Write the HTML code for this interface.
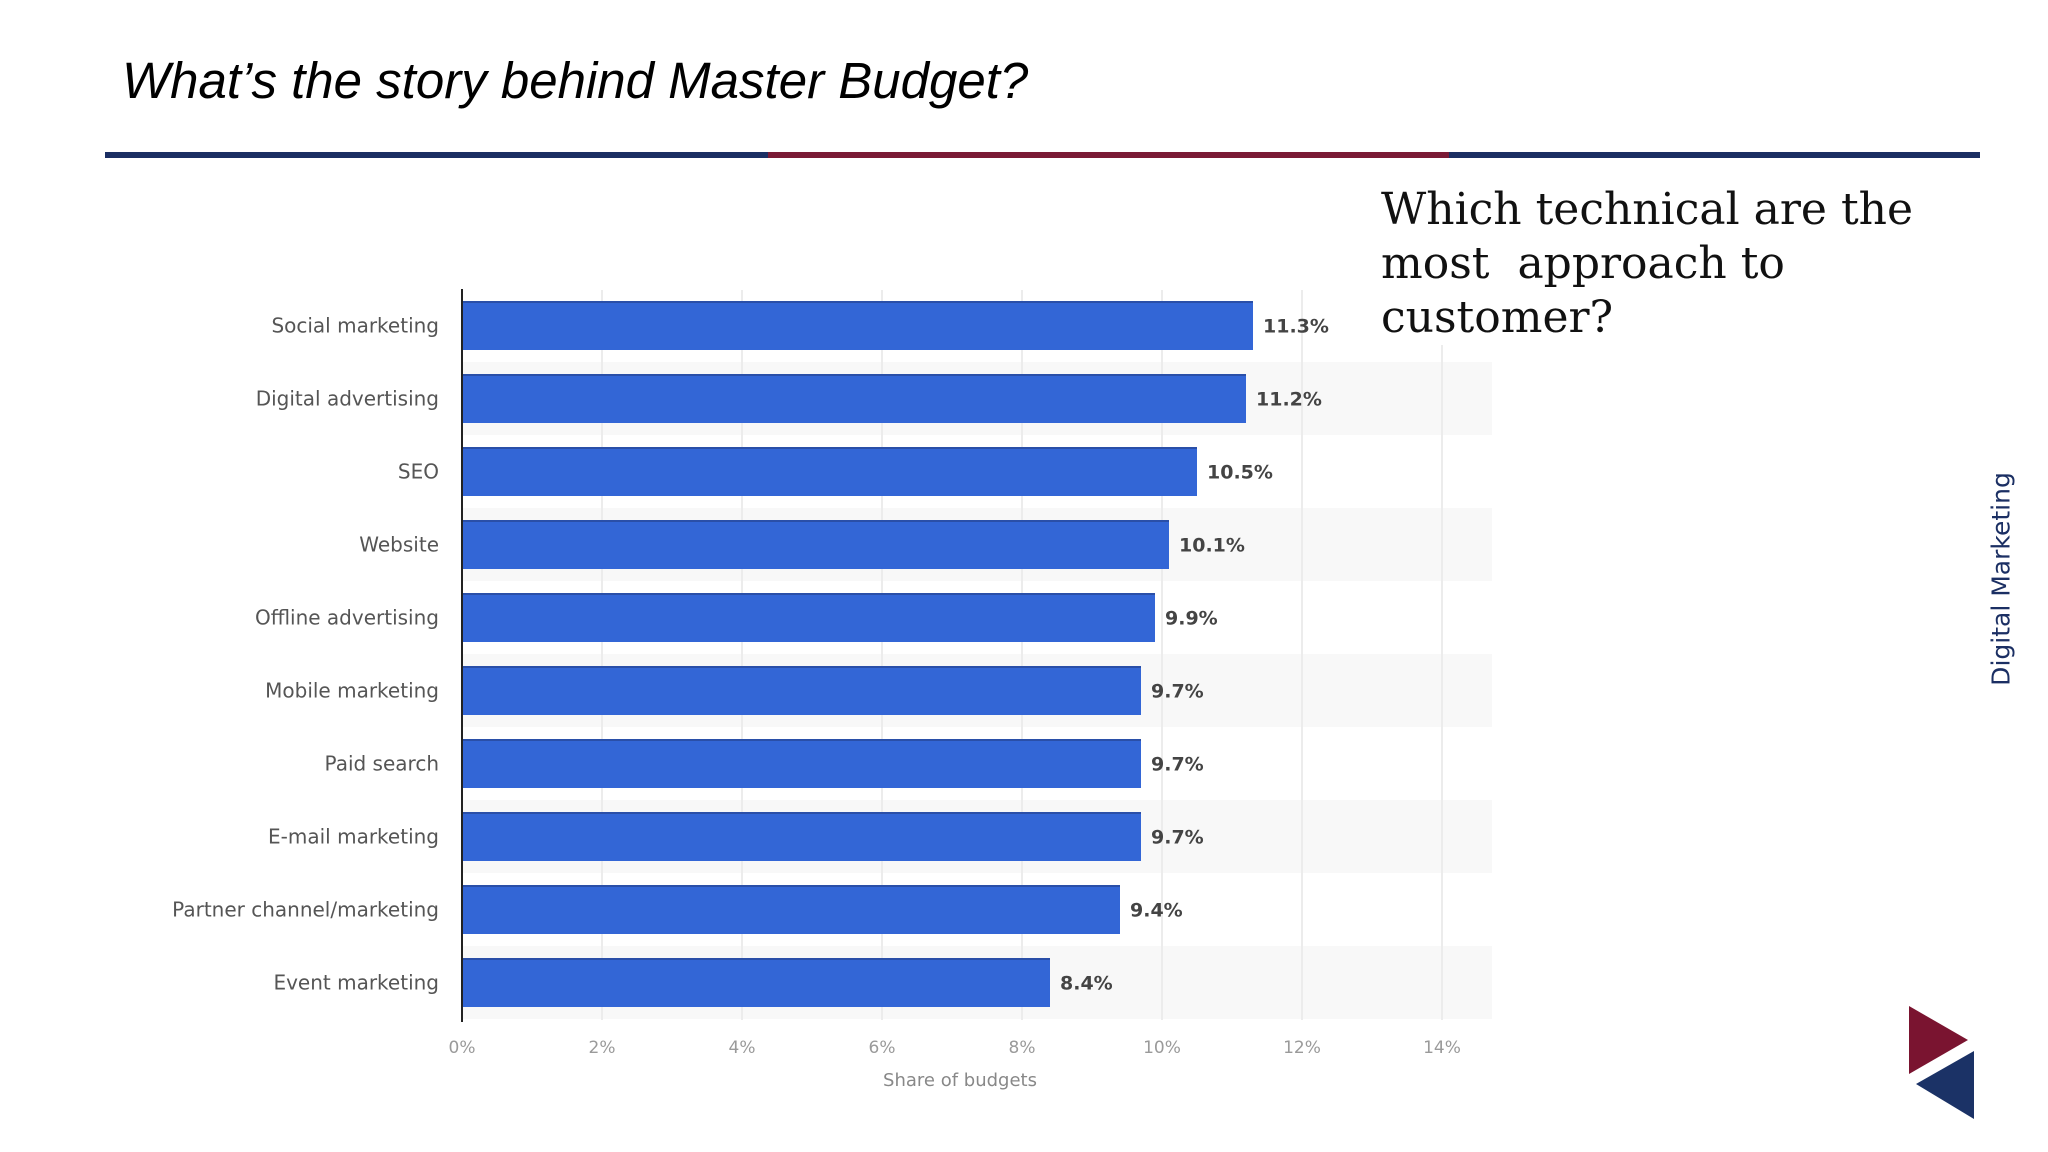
<!DOCTYPE html>
<html><head><meta charset="utf-8"><style>
body{margin:0;width:2048px;height:1152px;background:#fff;overflow:hidden;position:relative;font-family:"DejaVu Sans","Liberation Sans",sans-serif}
.abs{position:absolute}
</style></head><body>
<div class="abs" style="left:122px;top:51px;font:italic 51px 'Liberation Sans',sans-serif;color:#000;white-space:nowrap">What’s the story behind Master Budget?</div>
<div class="abs" style="left:105px;top:152px;width:663px;height:6px;background:#1b2f63"></div>
<div class="abs" style="left:768px;top:152px;width:681px;height:6px;background:#7a1a35"></div>
<div class="abs" style="left:1449px;top:152px;width:531px;height:6px;background:#1b2f63"></div>
<svg id="chart" class="abs" style="left:0;top:0" width="2048" height="1152"></svg>
<div class="abs" style="left:1381px;top:183px;font:44px 'DejaVu Serif','Liberation Serif',serif;line-height:54px;color:#111;white-space:pre;background:#fff">Which technical are the
most  approach to
customer?</div>
<div class="abs" style="left:2001px;top:579px;transform:translate(-50%,-50%) rotate(-90deg);font:25px 'DejaVu Sans',sans-serif;color:#1b2f63;white-space:nowrap">Digital Marketing</div>
<svg class="abs" style="left:0;top:0" width="2048" height="1152">
<polygon points="1909,1006 1909,1074 1968,1040" fill="#7a1430"/>
<polygon points="1974,1051 1974,1119 1916,1084" fill="#1b3266"/>
</svg>
<script>
const categories=["Social marketing","Digital advertising","SEO","Website","Offline advertising","Mobile marketing","Paid search","E-mail marketing","Partner channel/marketing","Event marketing"];
const values=[11.3,11.2,10.5,10.1,9.9,9.7,9.7,9.7,9.4,8.4];
const valueLabels=["11.3%","11.2%","10.5%","10.1%","9.9%","9.7%","9.7%","9.7%","9.4%","8.4%"];
const ticks=[0,2,4,6,8,10,12,14];
const tickLabels=["0%","2%","4%","6%","8%","10%","12%","14%"];
const NS="http://www.w3.org/2000/svg";
const svg=document.getElementById('chart');
const x0=462,pxPer=70,top0=301,pitch=73,bh=49;
const xs=v=>x0+v*pxPer;
const ys=i=>top0+i*pitch;
function mk(t,a){const e=document.createElementNS(NS,t);for(const k in a)e.setAttribute(k,a[k]);svg.appendChild(e);return e;}
categories.forEach((c,i)=>{if(i%2===1){const b=mk('rect',{x:x0,y:ys(i)-12,width:1030,height:pitch,fill:'#f8f8f8'});

}});
ticks.forEach((t,i)=>{const g=mk('line',{x1:xs(t),x2:xs(t),y1:290,y2:1020,stroke:'#ececec','stroke-width':2});


const l=mk('text',{x:xs(t),y:1053,'text-anchor':'middle','font-size':17,fill:'#9a9a9a','font-family':'DejaVu Sans, sans-serif'});
l.textContent=tickLabels[i];

});
categories.forEach((c,i)=>{const y=ys(i);
const r=mk('rect',{x:x0,y:y,width:xs(values[i])-x0,height:bh,fill:'#3366d6'});


const tl=mk('line',{x1:x0,x2:xs(values[i]),y1:y+1,y2:y+1,stroke:'#2a4fa8','stroke-width':2});


const cl=mk('text',{x:439,y:y+bh/2+7,'text-anchor':'end','font-size':20,fill:'#555','font-family':'DejaVu Sans, sans-serif'});
cl.textContent=c;


const vl=mk('text',{x:xs(values[i])+10,y:y+bh/2+7,'font-size':19,fill:'#444','font-weight':'600','font-family':'DejaVu Sans, sans-serif'});
vl.textContent=valueLabels[i];

});
const ax=mk('line',{x1:x0,x2:x0,y1:289,y2:1022,stroke:'#222','stroke-width':2});


const at=mk('text',{x:960,y:1086,'text-anchor':'middle','font-size':18,fill:'#888','font-family':'DejaVu Sans, sans-serif'});
at.textContent='Share of budgets';


</script>
</body></html>
